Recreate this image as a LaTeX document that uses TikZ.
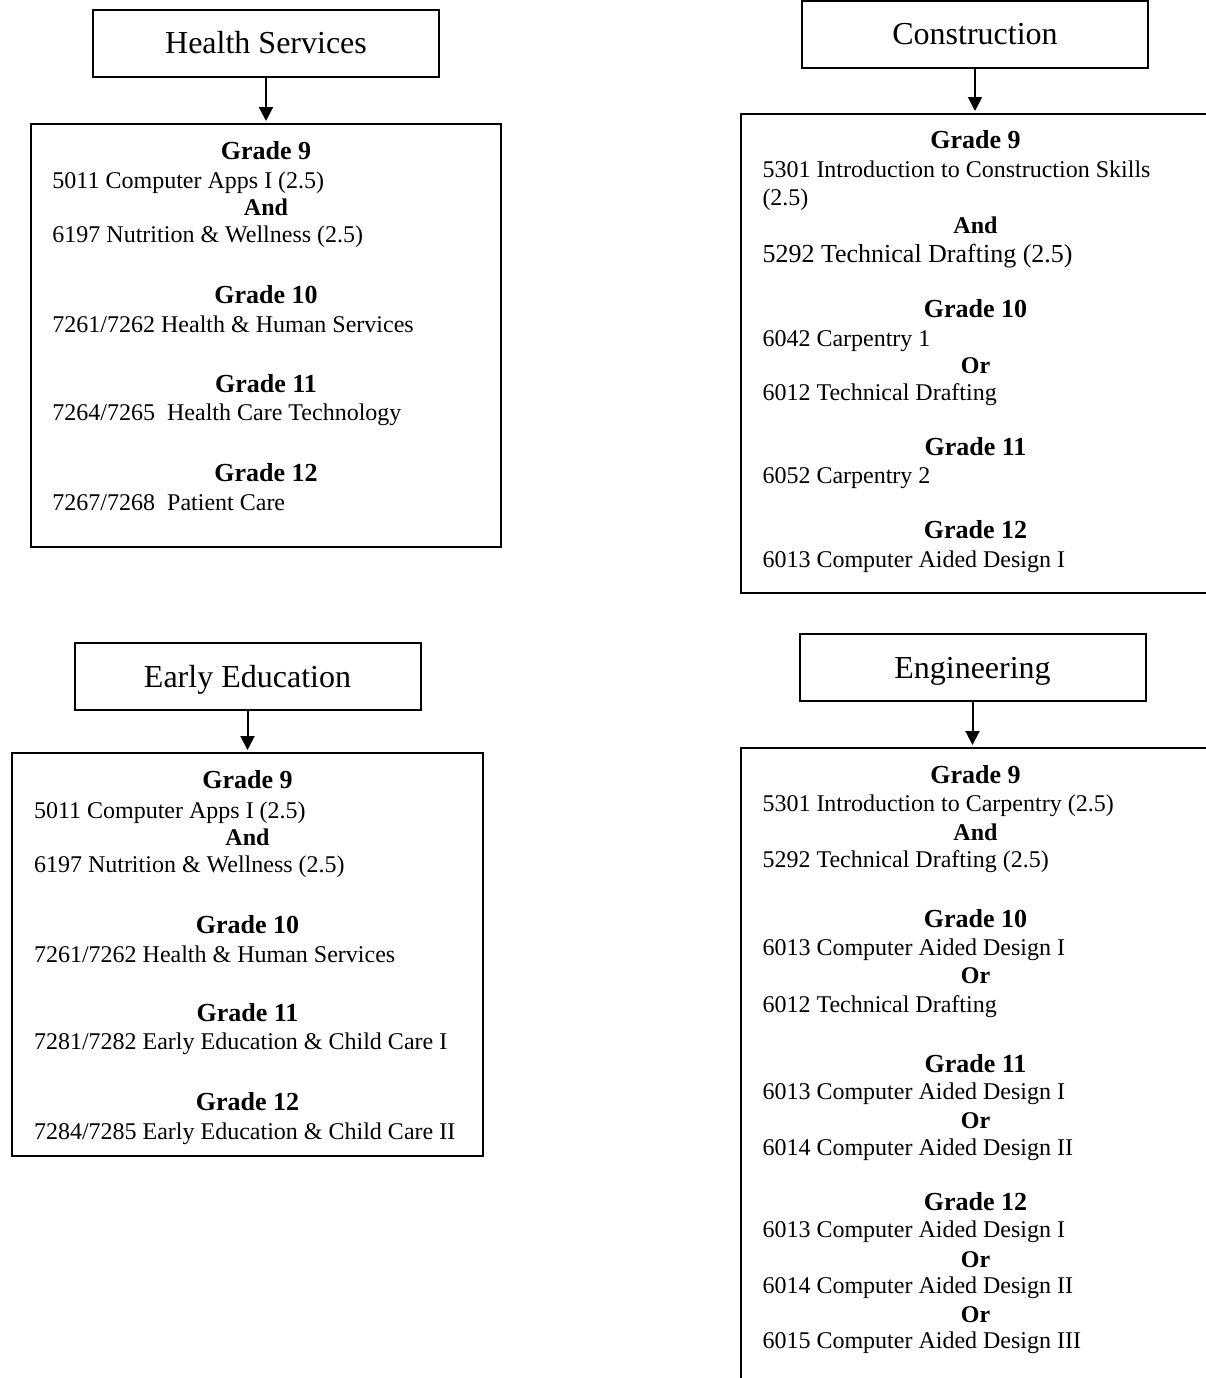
\documentclass[tikz,border=0pt]{standalone}
\usepackage{fontspec}
\setmainfont{Liberation Serif}
\usetikzlibrary{arrows.meta}

\begin{document}
\begin{tikzpicture}[x=0.5pt,y=-0.5pt,line width=1pt,
    title node/.style={rectangle, draw, minimum width=173pt, minimum height=33.5pt,
      inner sep=0pt, outer sep=0pt, text height=10.6pt, text depth=0pt,
      font=\fontsize{16}{19}\selectfont},
    box node/.style={rectangle, draw, anchor=north west, inner sep=0pt, outer sep=0pt},
    grade node/.style={anchor=base, inner sep=0pt, font=\fontsize{13}{15}\selectfont\bfseries},
    or node/.style={anchor=base, inner sep=0pt, font=\fontsize{12}{14}\selectfont\bfseries},
    course node/.style={anchor=base west, inner sep=0pt, font=\fontsize{12}{14}\selectfont},
    down/.style={-{Triangle[length=7pt,width=7pt]}, shorten >=1.5pt}]

  \useasboundingbox (0,0) rectangle (1206,1378);
  \clip (0,0) rectangle (1206,1378);
  \fill[white] (0,0) rectangle (1206,1378);

  %Health Services%
  \node[title node] (hs) at (266,43) {Health Services};
  \node[box node, minimum width=235pt, minimum height=211.5pt] (hsbox) at (31,124) {};
  \draw[down] (hs.south) -- (hs.south |- hsbox.north);
  \node[grade node] (hs9) at (266,159) {Grade 9};
  \node[course node] (hs9a) at (51.5,188) {5011 Computer Apps I (2.5)};
  \node[or node] (hs9and) at (266,215) {And};
  \node[course node] (hs9b) at (51.5,242) {6197 Nutrition \& Wellness (2.5)};
  \node[grade node] (hs10) at (266,303) {Grade 10};
  \node[course node] (hs10a) at (51.5,332) {7261/7262 Health \& Human Services};
  \node[grade node] (hs11) at (266,392) {Grade 11};
  \node[course node] (hs11a) at (51.5,420) {7264/7265~ Health Care Technology};
  \node[grade node] (hs12) at (266,481) {Grade 12};
  \node[course node] (hs12a) at (51.5,510) {7267/7268~ Patient Care};

  %Construction%
  \node[title node] (cn) at (975,34) {Construction};
  \node[box node, minimum width=234.5pt, minimum height=239.5pt] (cnbox) at (741,114) {};
  \draw[down] (cn.south) -- (cn.south |- cnbox.north);
  \node[grade node] (cn9) at (975.5,148) {Grade 9};
  \node[course node] (cn9a) at (761.5,177) {5301 Introduction to Construction Skills};
  \node[course node] (cn9b) at (761.5,205) {(2.5)};
  \node[or node] (cn9and) at (975.5,233) {And};
  \node[course node, font=\fontsize{13}{15}\selectfont] (cn9c) at (761.5,262) {5292 Technical Drafting (2.5)};
  \node[grade node] (cn10) at (975.5,317) {Grade 10};
  \node[course node] (cn10a) at (761.5,346) {6042 Carpentry 1};
  \node[or node] (cn10or) at (975.5,373) {Or};
  \node[course node] (cn10b) at (761.5,400) {6012 Technical Drafting};
  \node[grade node] (cn11) at (975.5,455) {Grade 11};
  \node[course node] (cn11a) at (761.5,483) {6052 Carpentry 2};
  \node[grade node] (cn12) at (975.5,538) {Grade 12};
  \node[course node] (cn12a) at (761.5,567) {6013 Computer Aided Design I};

  %Early Education%
  \node[title node] (ee) at (247.5,676.5) {Early Education};
  \node[box node, minimum width=235.5pt, minimum height=201.5pt] (eebox) at (12,753) {};
  \draw[down] (ee.south) -- (ee.south |- eebox.north);
  \node[grade node] (ee9) at (247.5,788) {Grade 9};
  \node[course node] (ee9a) at (33,818) {5011 Computer Apps I (2.5)};
  \node[or node] (ee9and) at (247.5,845) {And};
  \node[course node] (ee9b) at (33,872) {6197 Nutrition \& Wellness (2.5)};
  \node[grade node] (ee10) at (247.5,933) {Grade 10};
  \node[course node] (ee10a) at (33,962) {7261/7262 Health \& Human Services};
  \node[grade node] (ee11) at (247.5,1021) {Grade 11};
  \node[course node] (ee11a) at (33,1049) {7281/7282 Early Education \& Child Care I};
  \node[grade node] (ee12) at (247.5,1110) {Grade 12};
  \node[course node] (ee12a) at (33,1139) {7284/7285 Early Education \& Child Care II};

  %Engineering%
  \node[title node] (en) at (972.5,667.5) {Engineering};
  \node[box node, minimum width=234.5pt, minimum height=326pt] (enbox) at (741,748) {};
  \draw[down] (en.south) -- (en.south |- enbox.north);
  \node[grade node] (en9) at (975.5,783) {Grade 9};
  \node[course node] (en9a) at (761.5,811) {5301 Introduction to Carpentry (2.5)};
  \node[or node] (en9and) at (975.5,840) {And};
  \node[course node] (en9b) at (761.5,867) {5292 Technical Drafting (2.5)};
  \node[grade node] (en10) at (975.5,927) {Grade 10};
  \node[course node] (en10a) at (761.5,955) {6013 Computer Aided Design I};
  \node[or node] (en10or) at (975.5,983) {Or};
  \node[course node] (en10b) at (761.5,1012) {6012 Technical Drafting};
  \node[grade node] (en11) at (975.5,1072) {Grade 11};
  \node[course node] (en11a) at (761.5,1099) {6013 Computer Aided Design I};
  \node[or node] (en11or) at (975.5,1128) {Or};
  \node[course node] (en11b) at (761.5,1155) {6014 Computer Aided Design II};
  \node[grade node] (en12) at (975.5,1210) {Grade 12};
  \node[course node] (en12a) at (761.5,1237) {6013 Computer Aided Design I};
  \node[or node] (en12or) at (975.5,1267) {Or};
  \node[course node] (en12b) at (761.5,1293) {6014 Computer Aided Design II};
  \node[or node] (en12or2) at (975.5,1322) {Or};
  \node[course node] (en12c) at (761.5,1348) {6015 Computer Aided Design III};
\end{tikzpicture}
\end{document}
